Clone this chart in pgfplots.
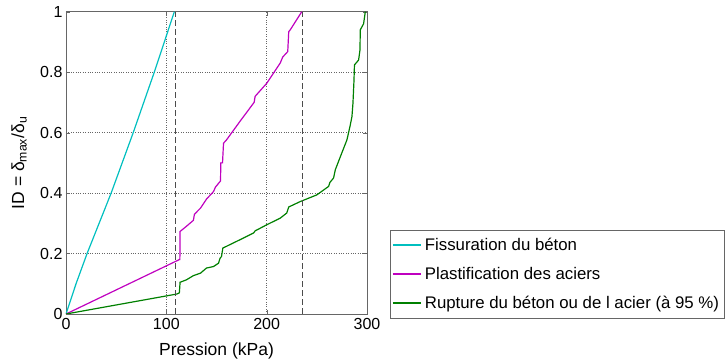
\documentclass[border=0pt]{standalone}
\usepackage{fontspec}
\setmainfont{Liberation Sans}
\usepackage{pgfplots}
\pgfplotsset{compat=1.18}
\definecolor{mc}{rgb}{0,0.75,0.75}
\definecolor{mm}{rgb}{0.75,0,0.75}
\definecolor{mg}{rgb}{0,0.5,0}
\begin{document}
\begin{tikzpicture}
\useasboundingbox (-66bp,-50bp) rectangle (661bp,314bp);
\begin{axis}[
  at={(0,0)}, anchor=south west,
  scale only axis, width=301bp, height=302.3bp,
  xmin=0, xmax=300, ymin=0, ymax=1,
  xtick={0,100,200,300}, ytick={0,0.2,0.4,0.6,0.8,1},
  /pgf/number format/assume math mode=true,
  yticklabel style={/pgf/number format/.cd,fixed,precision=1},
  tick label style={font=\fontsize{16bp}{19bp}\selectfont},
  xticklabel style={yshift=-1bp},
  tick align=inside, major tick length=4bp,
  tick style={color=gray!80!black},
  axis line style={color=gray!80!black},
  grid=major,
  major grid style={dotted, color=gray!80!black, line width=0.5pt},
  xlabel={Pression (kPa)},
  ylabel={ID = δ\textsubscript{max}/δ\textsubscript{u}},
  label style={font=\fontsize{17.5bp}{20bp}\selectfont},
  xlabel style={at={(axis description cs:0.5,-0.136)}, anchor=base},
  ylabel style={at={(axis description cs:-0.1395,0.5)}, anchor=base},
  legend style={at={(axis description cs:1.076,-0.013)}, anchor=south west,
    draw=gray!80!black, font=\fontsize{16.8bp}{20bp}\selectfont,
    inner xsep=2bp, inner ysep=6bp, row sep=11bp,
    nodes={inner xsep=3bp}},
  legend cell align=left,
  legend image code/.code={\draw[#1, line width=1.8pt] plot coordinates {(0bp,0bp) (28bp,0bp)};},
  every axis plot/.append style={line width=1.2pt},
]
\addplot[color=mc] coordinates {(0,0) (10,0.1) (21,0.2) (33,0.3) (45,0.4) (56,0.5) (67,0.6) (77.5,0.7) (88,0.8) (98,0.9) (108,1)};
\addlegendentry{Fissuration du béton}
\addplot[color=mm] coordinates {(0,0) (113,0.18) (113.5,0.18) (113.7,0.273) (120,0.29) (127,0.31) (128,0.33) (134,0.35) (140,0.38) (147,0.405) (149,0.42) (154,0.44) (154.3,0.50) (156,0.50) (157,0.565) (160,0.576) (174,0.64) (187.5,0.70) (188.5,0.72) (200,0.763) (213.5,0.83) (216,0.85) (221,0.868) (222,0.934) (223.5,0.94) (235,1.0)};
\addlegendentry{Plastification des aciers}
\addplot[color=mg] coordinates {(0,0) (110.4,0.066) (113,0.07) (113.7,0.105) (120,0.113) (127,0.127) (134,0.135) (140,0.152) (147,0.157) (152,0.168) (153.6,0.185) (155,0.19) (156.3,0.218) (160,0.224) (173.6,0.246) (187,0.268) (188.5,0.275) (200,0.295) (213.5,0.317) (220,0.334) (222,0.354) (233.5,0.372) (250,0.394) (261.7,0.422) (263,0.435) (266.7,0.45) (268.4,0.477) (273.4,0.52) (280,0.576) (283,0.62) (285,0.653) (286,0.697) (287,0.77) (287.5,0.824) (291.6,0.84) (293,0.873) (293.3,0.94) (296.6,0.96) (298.3,1.0)};
\addlegendentry{Rupture du béton ou de l acier (à 95 \%)}
\addplot[black!70, dash pattern=on 6bp off 3bp, line width=0.6pt, forget plot] coordinates {(109,0) (109,1)};
\addplot[black!70, dash pattern=on 6bp off 3bp, line width=0.6pt, forget plot] coordinates {(236,0) (236,1)};
\end{axis}
\end{tikzpicture}
\end{document}
